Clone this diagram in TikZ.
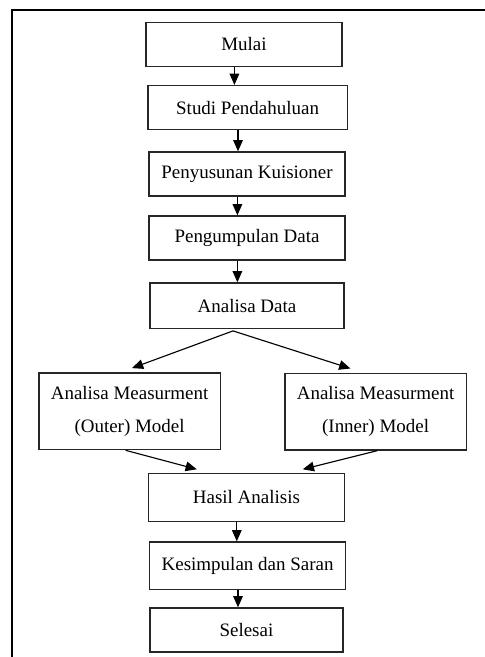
\documentclass[tikz,border=0pt]{standalone}
\usepackage{fontspec}
\setmainfont{Liberation Serif}
\usepackage{tikz}
\usetikzlibrary{positioning,calc,arrows.meta}

\begin{document}
\begin{tikzpicture}[
			box/.style={draw=black!85,line width=1pt,minimum width=4.9cm,minimum height=1.1cm,inner sep=0,align=center,font=\fontsize{13.5}{23.5}\selectfont},
			flow/.style={-{Triangle[length=2.8mm,width=2.4mm]},line width=0.8pt}
		]
		\useasboundingbox (0,0) rectangle (12.125,-16.425);
		\draw[line width=1.4pt] (0.3,-16.6) -- (0.3,-0.25) -- (12.3,-0.25);
		\node[box]                                          (mulai)       at (6.10,-1.11)  {Mulai};
		\node[box,minimum width=4.98cm]                     (studi)       at (6.19,-2.69)  {Studi Pendahuluan};
		\node[box]                                          (kuisioner)   at (6.175,-4.35) {Penyusunan Kuisioner};
		\node[box]                                          (pengumpulan) at (6.175,-5.95) {Pengumpulan Data};
		\node[box,minimum width=4.85cm,minimum height=1.13cm] (analisa)   at (6.175,-7.64) {Analisa Data};
		\node[box,minimum width=4.53cm,minimum height=1.92cm] (outer)     at (3.24,-10.28) {Analisa Measurment\\(Outer) Model};
		\node[box,minimum width=4.53cm,minimum height=1.92cm] (inner)     at (9.39,-10.29) {Analisa Measurment\\(Inner) Model};
		\node[box,minimum height=1.2cm]                     (hasil)       at (6.16,-12.43) {Hasil Analisis};
		\node[box,minimum height=1.18cm]                    (kesimpulan)  at (6.19,-14.14) {Kesimpulan dan Saran};
		\node[box,minimum width=4.83cm]                     (selesai)     at (6.16,-15.75) {Selesai};
		\foreach \a/\b in {mulai/studi,studi/kuisioner,kuisioner/pengumpulan,pengumpulan/analisa,hasil/kesimpulan,kesimpulan/selesai}
			\draw[flow] ([xshift=-2.4mm]\a.south) -- ([xshift=-2.4mm]\a.south |- \b.north);
		\draw[flow] ([xshift=-3.5mm,yshift=-0.5mm]analisa.south) -- ([xshift=0.6mm,yshift=1mm]outer.north);
		\draw[flow] ([xshift=-3.5mm,yshift=-0.5mm]analisa.south) -- ([xshift=-6.3mm,yshift=1mm]inner.north);
		\draw[flow] ([xshift=-1mm]outer.south) -- ([xshift=-12.4mm,yshift=0.8mm]hasil.north);
		\draw[flow] ([xshift=0.4mm]inner.south) -- ([xshift=14.1mm,yshift=0.8mm]hasil.north);
	\end{tikzpicture}
\end{document}
